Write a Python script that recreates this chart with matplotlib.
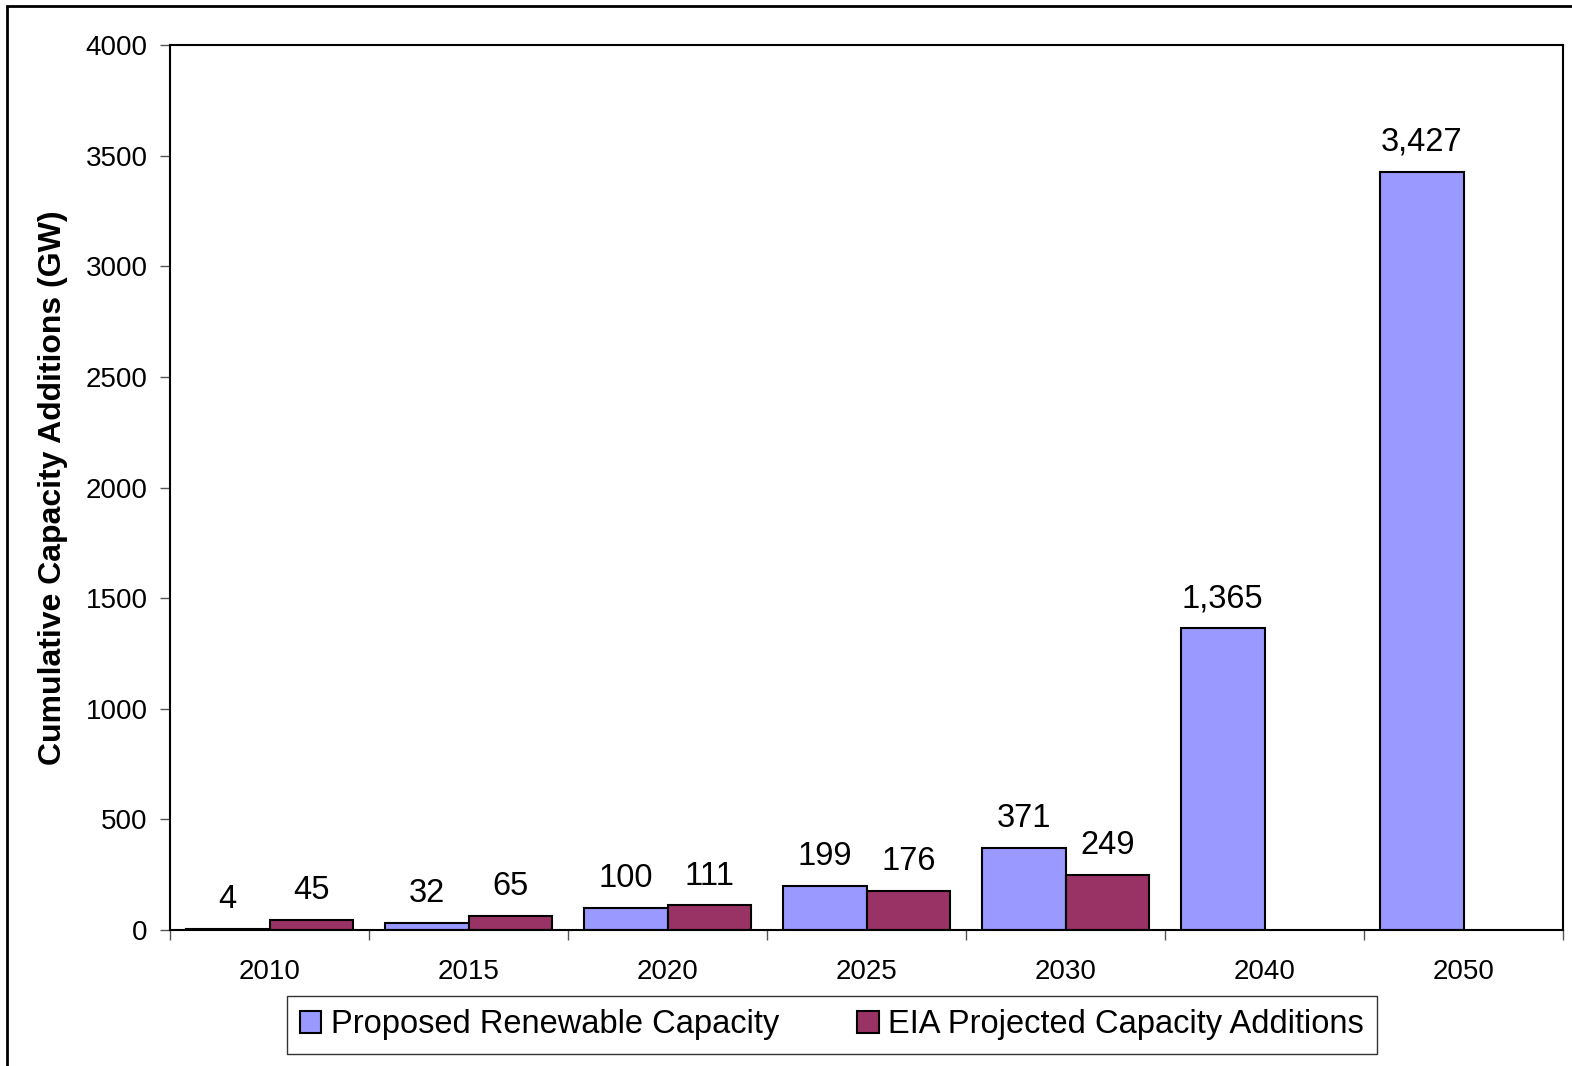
import numpy as np
import matplotlib
matplotlib.use("Agg")
import matplotlib.pyplot as plt
from matplotlib.patches import Rectangle

plt.rcParams['font.family'] = ['Liberation Sans', 'DejaVu Sans']

years = ['2010', '2015', '2020', '2025', '2030', '2040', '2050']
proposed = [4, 32, 100, 199, 371, 1365, 3427]
eia = [45, 65, 111, 176, 249, np.nan, np.nan]

fig = plt.figure(figsize=(15.72, 10.66), dpi=100)
ax = fig.add_axes([170 / 1572, 1 - 930 / 1066, 1393 / 1572, 885 / 1066])

x = np.arange(len(years))
w = 0.42
b1 = ax.bar(x - w / 2, proposed, w, color='#9999FF', edgecolor='black', linewidth=1.5,
            label='Proposed Renewable Capacity')
b2 = ax.bar(x + w / 2, eia, w, color='#993366', edgecolor='black', linewidth=1.5,
            label='EIA Projected Capacity Additions')

for xi, v in zip(x - w / 2, proposed):
    ax.annotate(f'{v:,}', (xi, v), xytext=(0, 10), textcoords='offset points',
                ha='center', va='bottom', fontsize=23.5)
for xi, v in zip(x + w / 2, eia):
    if not np.isnan(v):
        ax.annotate(f'{int(v):,}', (xi, v), xytext=(0, 10), textcoords='offset points',
                    ha='center', va='bottom', fontsize=23.5)

ax.set_xlim(-0.5, len(years) - 0.5)
ax.set_ylim(0, 4000)
ax.set_yticks(np.arange(0, 4001, 500))
ax.set_xticks(x)
ax.set_xticklabels(years)
ax.set_xticks(np.arange(-0.5, len(years)), minor=True)
ax.tick_params(axis='x', which='major', length=0, pad=21, labelsize=20)
ax.tick_params(axis='x', which='minor', length=7, width=1, color='#555555', direction='out')
ax.tick_params(axis='y', length=7, width=1, color='#555555', direction='out', pad=9, labelsize=20)

for s in ax.spines.values():
    s.set_linewidth(1.5)

ax.set_ylabel('Cumulative Capacity Additions (GW)', fontsize=23, fontweight='bold')
ax.yaxis.set_label_coords(-0.0735, 0.5)

leg = fig.legend(handles=[b1, b2], loc='center', bbox_to_anchor=(832 / 1572, 1 - 1025 / 1066),
                 ncol=2, fontsize=23.5, frameon=True, fancybox=False, edgecolor='black',
                 handlelength=0.65, handleheight=0.65, handletextpad=0.3, columnspacing=2.4,
                 borderpad=0.4, borderaxespad=0)
leg.get_frame().set_linewidth(1.0)

# outer frame of the original page
fig.patches.append(Rectangle((7 / 1572, -0.1), 1.5, 0.1 + 1 - 6 / 1066, fill=False,
                             edgecolor='black', linewidth=2, transform=fig.transFigure))

fig.savefig('out.png', dpi=100)
